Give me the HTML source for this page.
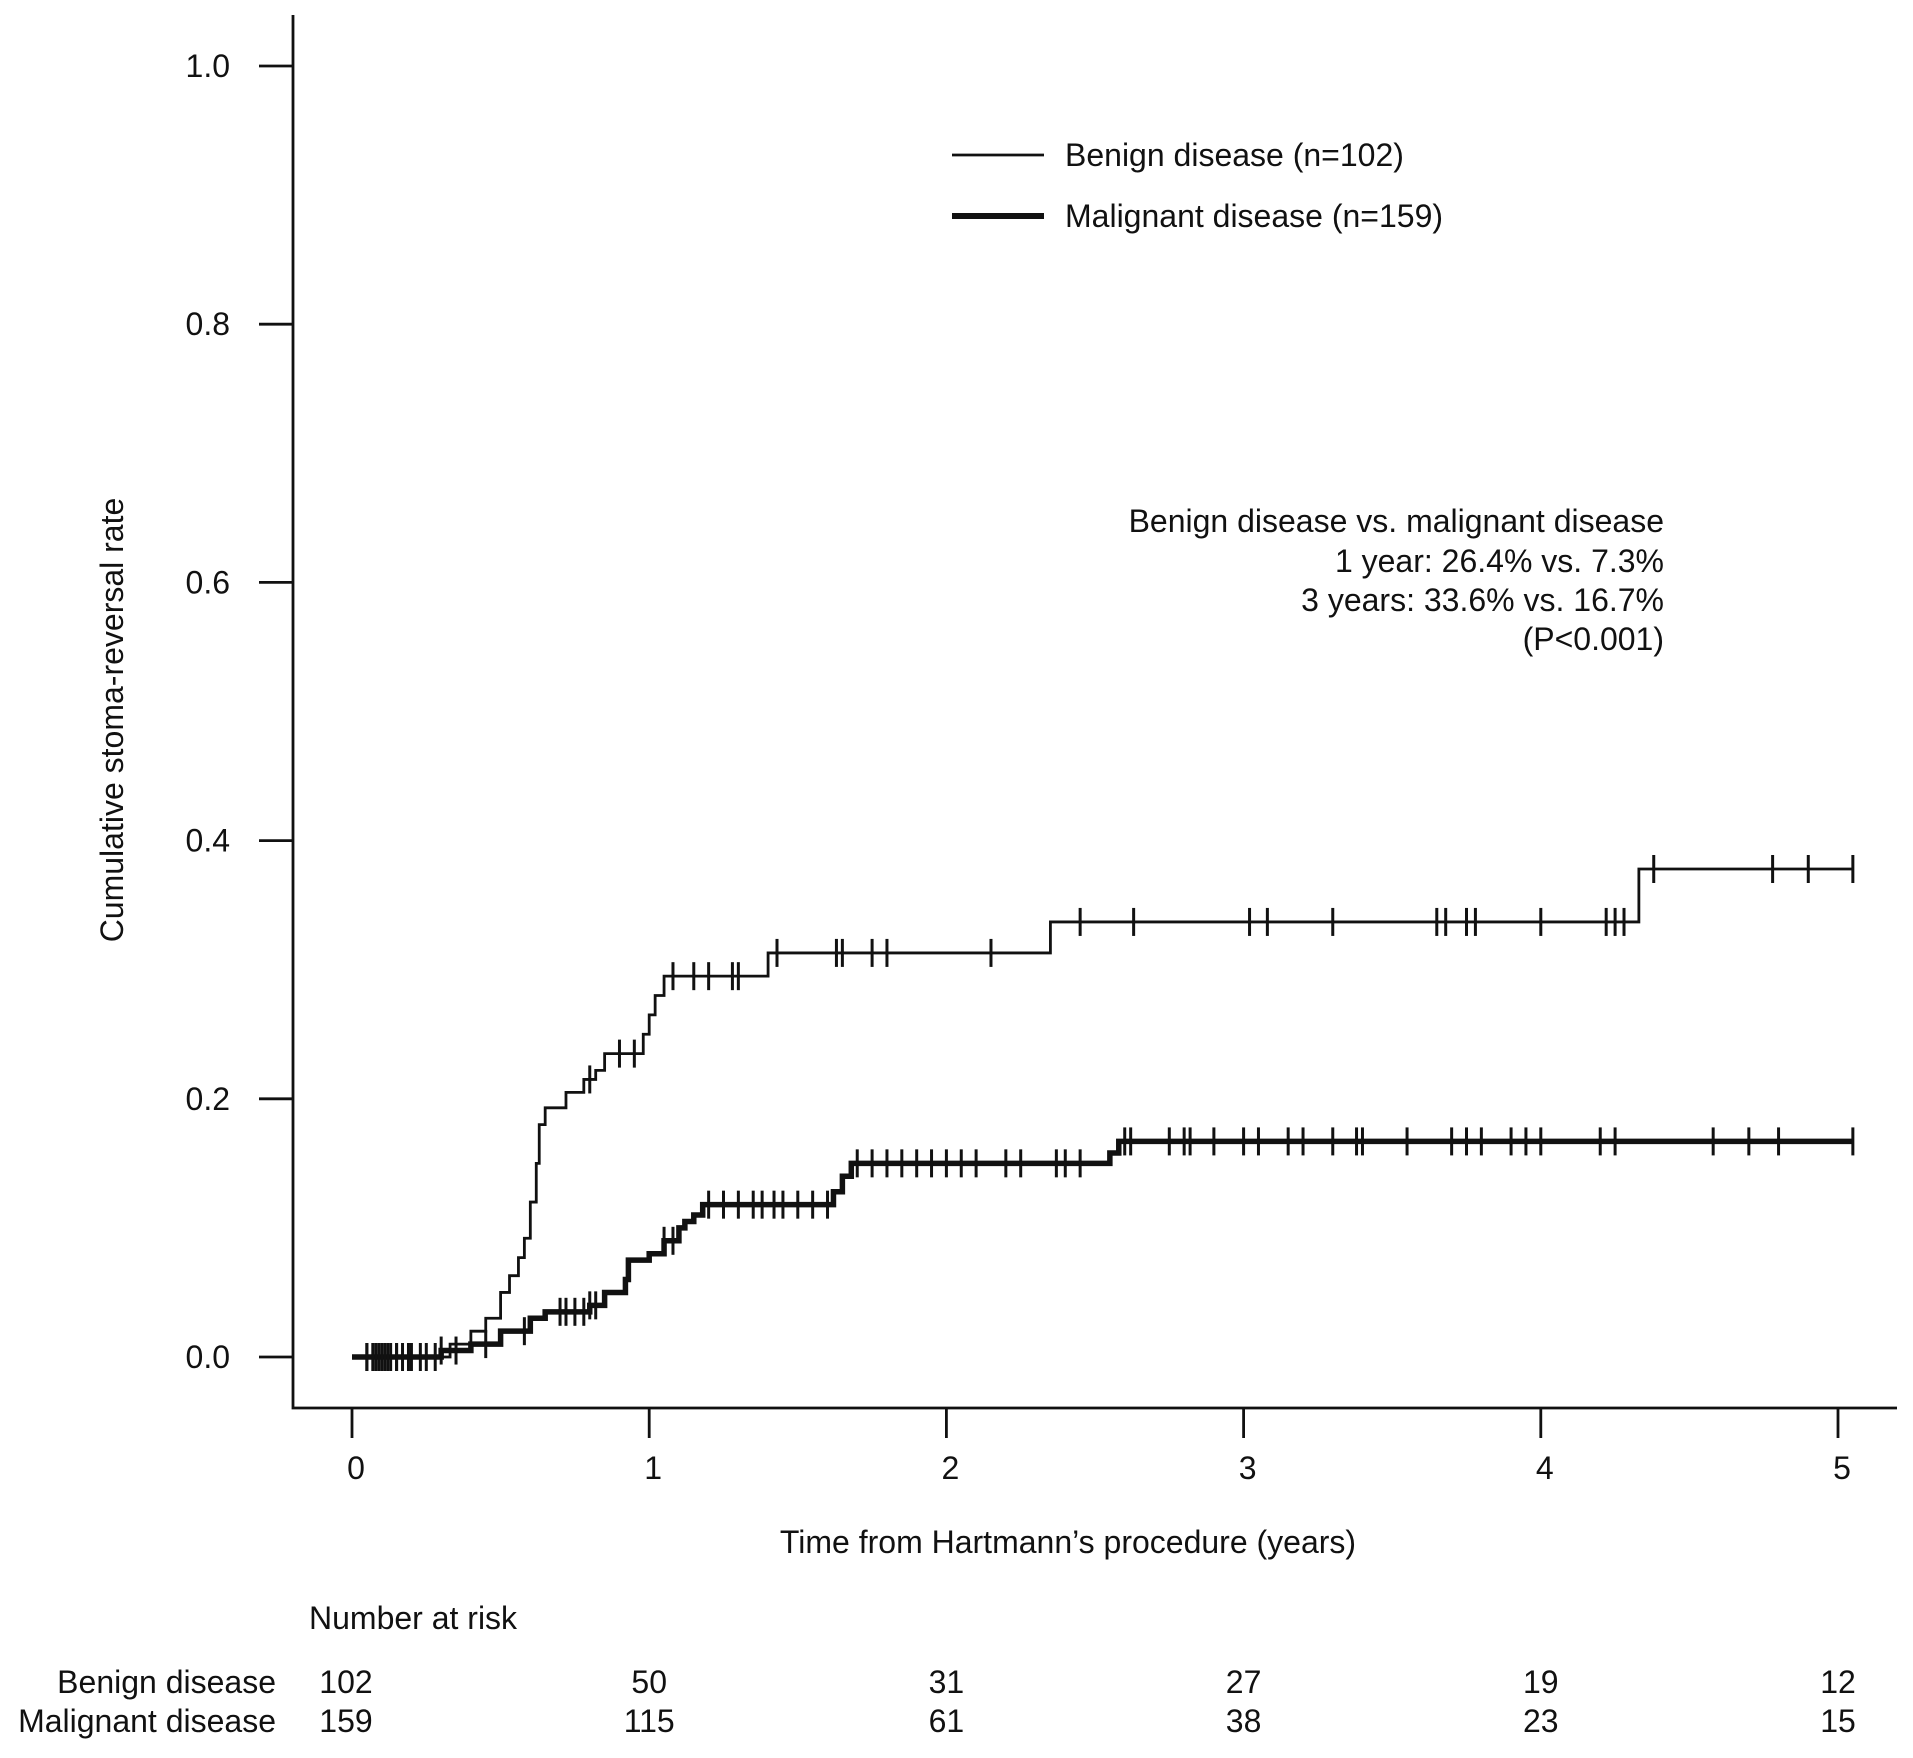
<!DOCTYPE html>
<html><head><meta charset="utf-8"><style>
html,body{margin:0;padding:0;background:#fff}
svg text{font-family:"Liberation Sans",sans-serif;fill:#111}
</style></head><body>
<svg id="chart" width="1913" height="1753" xmlns="http://www.w3.org/2000/svg">
<g id="axes"></g>
<g id="curves"></g>
<g>
<line x1="952" y1="155" x2="1044" y2="155" stroke="#111" stroke-width="2.8"/>
<text x="1065" y="166" font-size="32">Benign disease (n=102)</text>
<line x1="952" y1="216" x2="1044" y2="216" stroke="#111" stroke-width="6"/>
<text x="1065" y="227" font-size="32">Malignant disease (n=159)</text>
</g>
<g font-size="32" text-anchor="end">
<text x="1664" y="532">Benign disease vs. malignant disease</text>
<text x="1664" y="572">1 year: 26.4% vs. 7.3%</text>
<text x="1664" y="611">3 years: 33.6% vs. 16.7%</text>
<text x="1664" y="650">(P&lt;0.001)</text>
</g>
<text x="1068" y="1553" font-size="32" text-anchor="middle">Time from Hartmann’s procedure (years)</text>
<text transform="translate(123,720) rotate(-90)" font-size="32" text-anchor="middle">Cumulative stoma-reversal rate</text>
<text x="309" y="1629" font-size="32">Number at risk</text>
<g id="risk"></g>
</svg>
<script>
const xTicks=[0,1,2,3,4,5];
const yTicks=[0,0.2,0.4,0.6,0.8,1.0];
const benignTimes=[0,0.33,0.4,0.45,0.5,0.53,0.56,0.58,0.6,0.62,0.63,0.65,0.72,0.78,0.82,0.85,0.98,1.0,1.02,1.05,1.4,2.35,4.33];
const benignVals=[0,0.01,0.02,0.03,0.05,0.063,0.077,0.092,0.12,0.15,0.18,0.193,0.205,0.215,0.222,0.235,0.25,0.265,0.28,0.295,0.313,0.337,0.378];
const benignCensor=[0.05,0.08,0.1,0.12,0.15,0.2,0.8,0.9,0.95,1.08,1.15,1.2,1.28,1.3,1.43,1.63,1.65,1.75,1.8,2.15,2.45,2.63,3.02,3.08,3.3,3.65,3.68,3.75,3.78,4.0,4.22,4.25,4.28,4.38,4.78,4.9,5.05];
const malTimes=[0,0.3,0.4,0.5,0.6,0.65,0.8,0.85,0.92,0.93,1.0,1.05,1.1,1.12,1.15,1.18,1.62,1.65,1.68,2.55,2.58];
const malVals=[0,0.005,0.01,0.02,0.03,0.035,0.04,0.05,0.06,0.075,0.08,0.09,0.1,0.105,0.11,0.118,0.128,0.14,0.15,0.158,0.167];
const malCensor=[0.05,0.07,0.09,0.11,0.13,0.15,0.17,0.19,0.23,0.25,0.28,0.3,0.35,0.45,0.58,0.7,0.72,0.75,0.78,0.8,0.82,1.05,1.08,1.2,1.25,1.3,1.35,1.38,1.42,1.45,1.5,1.55,1.6,1.7,1.75,1.8,1.85,1.9,1.95,2.0,2.05,2.1,2.2,2.25,2.37,2.4,2.45,2.6,2.62,2.75,2.8,2.82,2.9,3.0,3.05,3.15,3.2,3.3,3.38,3.4,3.55,3.7,3.75,3.8,3.9,3.95,4.0,4.2,4.25,4.58,4.7,4.8,5.05];
const riskGroups=["Benign disease","Malignant disease"];
const riskBenign=[102,50,31,27,19,12];
const riskMal=[159,115,61,38,23,15];
const endTime=5.05;
const NS="http://www.w3.org/2000/svg";
const X=t=>352+t*297.2, Y=v=>1357-v*1291;
function mk(tag,attrs,parent,text){const e=document.createElementNS(NS,tag);for(const k in attrs)e.setAttribute(k,attrs[k]);if(text!==undefined)e.textContent=text;parent.appendChild(e);return e;}
const axes=document.getElementById('axes');
let e=mk('path',{d:`M293,15 V1408 H1897`,fill:'none',stroke:'#111','stroke-width':2.8},axes);


yTicks.forEach(v=>{
 let l=mk('line',{x1:259,x2:293,y1:Y(v),y2:Y(v),stroke:'#111','stroke-width':2.8},axes);
 
 
 let t=mk('text',{x:230,y:Y(v)+11,'font-size':32,'text-anchor':'end'},axes,v.toFixed(1));
 
 
});
xTicks.forEach(v=>{
 let l=mk('line',{x1:X(v),x2:X(v),y1:1408,y2:1438,stroke:'#111','stroke-width':2.8},axes);
 
 
 let t=mk('text',{x:X(v)+4,y:1479,'font-size':32,'text-anchor':'middle'},axes,String(v));
 
 
});
const curves=document.getElementById('curves');
function curve(times,vals,cens,w,name){
 let d=`M${X(times[0])},${Y(vals[0])}`;
 for(let i=1;i<times.length;i++){d+=` H${X(times[i])} V${Y(vals[i])}`;}
 d+=` H${X(endTime)}`;
 let p=mk('path',{d:d,fill:'none',stroke:'#111','stroke-width':w},curves);
 
 
 cens.forEach(t=>{
  let i=0;while(i+1<times.length&&times[i+1]<=t)i++;
  const y=Y(vals[i]);
  let c=mk('line',{x1:X(t),x2:X(t),y1:y-14,y2:y+14,stroke:'#111','stroke-width':3},curves);
  
  
 });
}
curve(benignTimes,benignVals,benignCensor,2.8,'benign');
curve(malTimes,malVals,malCensor,5.5,'malignant');
const risk=document.getElementById('risk');
[riskBenign,riskMal].forEach((row,r)=>{
 const y=1693+r*39;
 let g=mk('text',{x:276,y:y,'font-size':32,'text-anchor':'end'},risk,riskGroups[r]);
 
 
 row.forEach((n,i)=>{
  let t=mk('text',{x:X(xTicks[i])+(i===0?-6:0),y:y,'font-size':32,'text-anchor':'middle'},risk,String(n));
  
  
 });
});
</script>
</body></html>
